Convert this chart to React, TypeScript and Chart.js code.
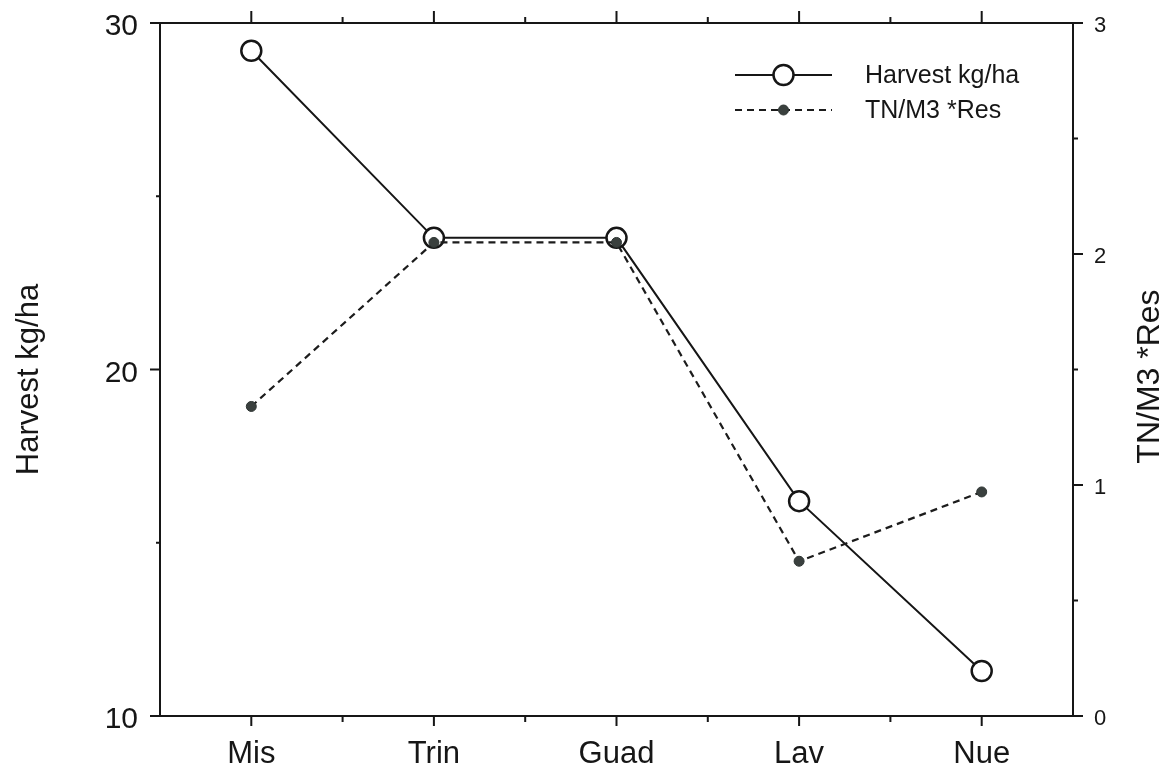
import React, { useEffect, useRef } from "react";
import { Chart, registerables } from "chart.js";

Chart.register(...registerables);

const categories = ["Mis", "Trin", "Guad", "Lav", "Nue"];
const harvest = [29.2, 23.8, 23.8, 16.2, 11.3];
const tnRes = [1.34, 2.05, 2.05, 0.67, 0.97];
const leftRange = [10, 30];
const rightRange = [0, 3];
const seriesNames = ["Harvest kg/ha", "TN/M3 *Res"];
const axisTitles = ["Harvest kg/ha", "TN/M3 *Res"];

const FONT = "'Liberation Sans', Arial, Helvetica, sans-serif";
const INK = "#161616";

const framePlugin = {
  id: "frame",
  afterDraw(chart: any) {
    const ctx = chart.ctx;
    const { left, right, top, bottom } = chart.chartArea;
    const xs = chart.scales.x;
    const ys = chart.scales.y;
    const ys1 = chart.scales.y1;
    ctx.save();
    ctx.strokeStyle = INK;
    ctx.lineWidth = 2;
    ctx.lineCap = "butt";
    ctx.strokeRect(left, top, right - left, bottom - top);
    ctx.beginPath();
    for (let i = 0; i < categories.length; i++) {
      const px = xs.getPixelForValue(i);
      ctx.moveTo(px, bottom);
      ctx.lineTo(px, bottom + 10);
      ctx.moveTo(px, top);
      ctx.lineTo(px, top - 12);
      if (i < categories.length - 1) {
        const mx = (px + xs.getPixelForValue(i + 1)) / 2;
        ctx.moveTo(mx, bottom);
        ctx.lineTo(mx, bottom + 6);
        ctx.moveTo(mx, top);
        ctx.lineTo(mx, top - 6);
      }
    }
    for (let v = leftRange[0]; v <= leftRange[1]; v += 5) {
      const py = ys.getPixelForValue(v);
      const len = v % 10 === 0 ? 10 : 4;
      ctx.moveTo(left, py);
      ctx.lineTo(left - len, py);
    }
    for (let v = rightRange[0]; v <= rightRange[1] + 1e-9; v += 0.5) {
      const py = ys1.getPixelForValue(v);
      const len = Math.abs(v - Math.round(v)) < 1e-9 ? 10 : 5;
      ctx.moveTo(right, py);
      ctx.lineTo(right + len, py);
    }
    ctx.stroke();

    ctx.fillStyle = INK;
    ctx.textAlign = "center";
    ctx.textBaseline = "middle";
    ctx.save();
    ctx.font = `31px ${FONT}`;
    ctx.translate(29, (top + bottom) / 2 + 10);
    ctx.rotate(-Math.PI / 2);
    ctx.fillText(axisTitles[0], 0, 0);
    ctx.restore();
    ctx.save();
    ctx.font = `32px ${FONT}`;
    ctx.translate(1150, (top + bottom) / 2 + 7);
    ctx.rotate(-Math.PI / 2);
    ctx.fillText(axisTitles[1], 0, 0);
    ctx.restore();

    const lx0 = 735;
    const lx1 = 832;
    const rows = [75, 110];
    chart.data.datasets.forEach((ds: any, i: number) => {
      const y = rows[i];
      ctx.save();
      ctx.strokeStyle = ds.borderColor;
      ctx.lineWidth = ds.borderWidth;
      ctx.setLineDash(ds.borderDash || []);
      ctx.beginPath();
      ctx.moveTo(lx0, y);
      ctx.lineTo(lx1, y);
      ctx.stroke();
      ctx.setLineDash([]);
      ctx.beginPath();
      ctx.arc((lx0 + lx1) / 2, y, ds.pointRadius, 0, Math.PI * 2);
      ctx.fillStyle = ds.pointBackgroundColor;
      ctx.fill();
      ctx.lineWidth = ds.pointBorderWidth;
      ctx.strokeStyle = ds.pointBorderColor;
      ctx.stroke();
      ctx.restore();
      ctx.fillStyle = INK;
      ctx.font = `25px ${FONT}`;
      ctx.textAlign = "left";
      ctx.textBaseline = "middle";
      ctx.fillText(ds.label, 865, y + 1);
    });
    ctx.restore();
  },
};

export default function App() {
  const ref = useRef<HTMLCanvasElement | null>(null);
  useEffect(() => {
    if (!ref.current) return;
    const chart = new Chart(ref.current, {
      type: "line",
      data: {
        labels: categories,
        datasets: [
          {
            label: seriesNames[0],
            data: harvest,
            yAxisID: "y",
            borderColor: INK,
            borderWidth: 2,
            pointRadius: 10,
            pointBorderWidth: 2.5,
            pointBorderColor: INK,
            pointBackgroundColor: "#ffffff",
            tension: 0,
            order: 1,
          },
          {
            label: seriesNames[1],
            data: tnRes,
            yAxisID: "y1",
            borderColor: "#1c1c1c",
            borderWidth: 2.2,
            borderDash: [7, 5],
            pointRadius: 5,
            pointBorderWidth: 1,
            pointBorderColor: "#2e3533",
            pointBackgroundColor: "#3a403e",
            tension: 0,
            order: 0,
          },
        ],
      } as any,
      options: {
        animation: false,
        responsive: true,
        maintainAspectRatio: false,
        layout: { padding: { top: 23, left: 0, right: 0, bottom: 0 } },
        plugins: {
          legend: { display: false },
          tooltip: { enabled: false },
          title: { display: false },
        },
        scales: {
          x: {
            type: "category",
            offset: true,
            grid: { display: false, drawTicks: false },
            border: { display: false },
            ticks: { color: INK, font: { family: FONT, size: 31 }, padding: 20, maxRotation: 0 },
            afterFit: (s: any) => {
              s.height = 58;
              s.paddingLeft = 0;
              s.paddingRight = 0;
            },
          },
          y: {
            position: "left",
            min: leftRange[0],
            max: leftRange[1],
            grid: { display: false, drawTicks: false },
            border: { display: false },
            ticks: { stepSize: 10, color: INK, font: { family: FONT, size: 30 }, padding: 22, labelOffset: 4 },
            afterFit: (s: any) => {
              s.width = 160;
              s.paddingTop = 0;
              s.paddingBottom = 0;
            },
          },
          y1: {
            position: "right",
            min: rightRange[0],
            max: rightRange[1],
            grid: { display: false, drawTicks: false },
            border: { display: false },
            ticks: { stepSize: 1, color: INK, font: { family: FONT, size: 22 }, padding: 21, labelOffset: 3 },
            afterFit: (s: any) => {
              s.width = 95;
              s.paddingTop = 0;
              s.paddingBottom = 0;
            },
          },
        },
      } as any,
      plugins: [framePlugin],
    });
    return () => chart.destroy();
  }, []);
  return (
    <div style={{ position: "fixed", left: 0, top: 0, width: 1168, height: 774, background: "#fff" }}>
      <canvas ref={ref} />
    </div>
  );
}
